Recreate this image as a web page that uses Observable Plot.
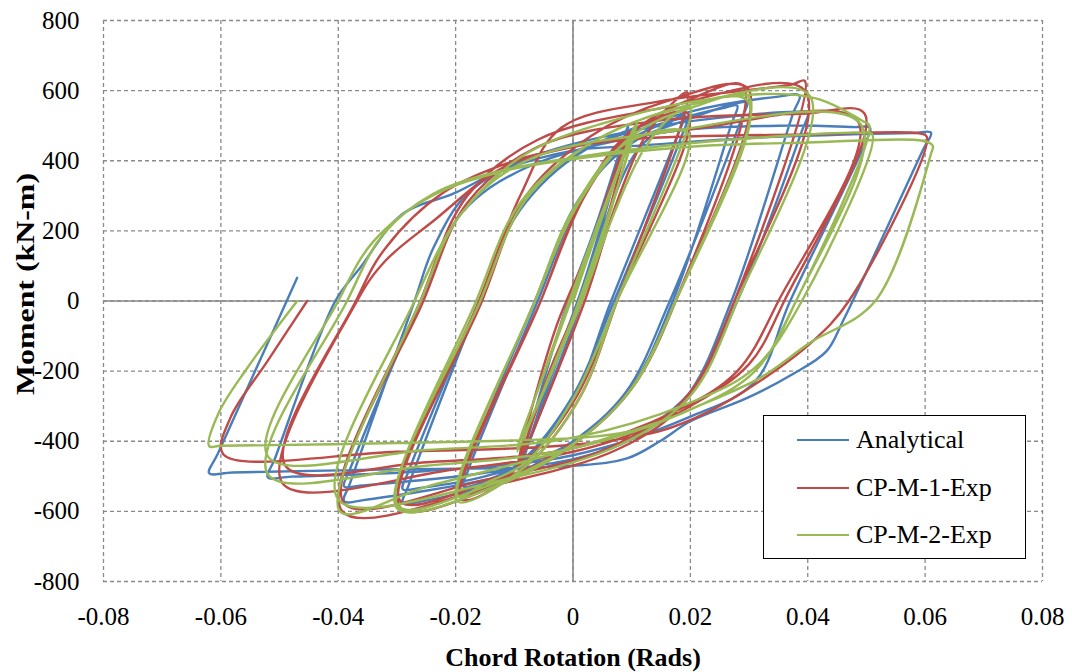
<!DOCTYPE html>
<html><head><meta charset="utf-8">
<script src="https://cdn.jsdelivr.net/npm/d3@7"></script>
<script src="https://cdn.jsdelivr.net/npm/@observablehq/plot@0.6"></script>
<style>
body{margin:0;background:#fff;}
#wrap{position:relative;width:1072px;height:672px;font-family:"Liberation Serif","Times New Roman",serif;}
#legend{position:absolute;left:763px;top:415px;width:263px;height:144px;border:1.6px solid #000;background:#fff;box-sizing:border-box;}
.lrow{position:absolute;left:33px;height:30px;display:flex;align-items:center;font-size:26px;color:#000;}
.lrow span.sw{display:inline-block;width:52px;height:0;border-top:2.5px solid;margin-right:7px;}
</style></head>
<body><div id="wrap"></div>
<script>
const xTicks = [-0.08,-0.06,-0.04,-0.02,0,0.02,0.04,0.06,0.08];
const yTicks = [-800,-600,-400,-200,0,200,400,600,800];
const seriesNames = ["Analytical","CP-M-1-Exp","CP-M-2-Exp"];
const seriesColors = ["#4A7EBB","#BE4B48","#98B954"];
const xTitle = "Chord Rotation (Rads)";
const yTitle = "Moment (kN-m)";

const analytical = [
[0,0],[0.005,270],[0.0095,500],
[0.002,60],[-0.004,-220],[-0.0095,-505],
[-0.002,-60],[0.004,220],[0.0095,505],
[0.002,50],[-0.004,-230],[-0.0095,-500],
[-0.0085,-450],[0.0015,0],[0.006,250],[0.011,430],[0.017,515],[0.019,530],
[0.0175,460],[0.0065,0],[0.0,-280],[-0.008,-450],[-0.016,-520],[-0.0187,-529],
[-0.0178,-480],[-0.006,0],[0.001,280],[0.009,450],[0.017,515],[0.0195,523],
[0.0185,470],[0.007,0],[0.0,-270],[-0.009,-460],[-0.017,-535],[-0.0195,-545],
[-0.0185,-490],[-0.0065,0],[0.001,290],[0.01,450],[0.02,520],[0.027,560],[0.0296,566],
[0.0285,510],[0.0165,0],[0.009,-260],[0.0,-400],[-0.012,-510],[-0.026,-572],[-0.029,-577],
[-0.028,-525],[-0.0158,0],[-0.0077,300],[0.003,440],[0.016,510],[0.026,552],[0.028,557],
[0.027,505],[0.017,0],[0.009,-270],[-0.002,-420],[-0.015,-500],[-0.026,-533],[-0.029,-537],
[-0.028,-485],[-0.016,0],[-0.009,260],[0.002,430],[0.02,540],[0.035,583],[0.0386,586],
[0.0375,535],[0.027,0],[0.019,-280],[0.008,-410],[-0.012,-500],[-0.035,-566],[-0.039,-571],
[-0.038,-520],[-0.027,0],[-0.0238,151],[-0.018,306],[-0.0073,409],[0.015,500],[0.038,540],[0.040,537],
[0.039,485],[0.028,0],[0.02,-260],[0.006,-420],[-0.015,-490],[-0.036,-526],[-0.039,-529],
[-0.038,-480],[-0.026,0],[-0.019,250],[-0.008,380],[0.015,480],[0.035,500],[0.048,496],[0.0506,494],
[0.0495,440],[0.037,0],[0.031,-230],[0.02,-330],[0.0,-440],[-0.025,-485],[-0.048,-501],[-0.052,-503],
[-0.0508,-450],[-0.0405,0],[-0.0363,94],[-0.029,249],[-0.0204,306],[-0.0124,371],[0,429],[0.0114,443],[0.03,465],[0.045,474],[0.058,479],[0.061,480],
[0.0596,430],[0.046,-57],[0.0432,-143],[0.0374,-209],[0.0296,-277],[0.02,-343],[0.0148,-400],[0.0092,-449],[0,-470],[-0.03,-480],[-0.058,-489],[-0.062,-491],
[-0.0605,-435],[-0.0545,-212],[-0.047,66]
];

const cpm1 = [
[0,0],[0.005,260],[0.0095,480],
[0.003,80],[-0.004,-200],[-0.0095,-470],
[-0.003,-80],[0.004,200],[0.0095,485],
[0.003,70],[-0.004,-210],[-0.0095,-475],
[0.002,0],[0.007,260],[0.012,460],[0.017,565],[0.0195,595],
[0.0075,0],[0.001,-280],[-0.008,-470],[-0.019,-565],
[-0.0055,0],[0.001,270],[0.009,470],[0.0196,534],
[0.0075,0],[0.0,-290],[-0.009,-470],[-0.019,-550],
[-0.0055,0],[0.002,300],[0.01,480],[0.02,575],[0.029,614],
[0.0175,0],[0.01,-250],[0.0,-410],[-0.012,-520],[-0.0294,-590],
[-0.0155,0],[-0.008,300],[0.003,470],[0.016,570],[0.0298,606],
[0.0175,0],[0.009,-270],[-0.002,-430],[-0.015,-520],[-0.0294,-571],
[-0.016,0],[-0.009,300],[-0.002,494],[0.015,570],[0.029,600],[0.0374,618],[0.0395,628],
[0.0275,0],[0.019,-290],[0.008,-420],[-0.012,-520],[-0.0393,-600],
[-0.026,0],[-0.018,300],[-0.006,460],[0.015,550],[0.0395,600],
[0.0275,0],[0.019,-280],[0.006,-420],[-0.015,-510],[-0.039,-577],
[-0.0255,0],[-0.018,280],[-0.006,440],[0.015,515],[0.039,534],[0.0497,534],
[0.036,0],[0.03,-180],[0.02,-300],[0.01,-380],[0.0,-430],[-0.02,-480],[-0.0495,-520],
[-0.0368,0],[-0.032,114],[-0.0238,228],[-0.012,380],[0.0,440],[0.02,490],[0.0485,514],
[0.035,0],[0.028,-200],[0.018,-310],[0.0,-420],[-0.025,-460],[-0.049,-470],
[-0.037,0],[-0.032,150],[-0.022,310],[-0.01,400],[0.0,440],[0.0114,463],[0.04,475],[0.059,478],[0.0603,468],
[0.047,0],[0.0403,-123],[0.0318,-229],[0.0233,-314],[0.0148,-371],[0.0,-410],[-0.03,-430],[-0.0596,-437],
[-0.0584,-334],[-0.052,-170],[-0.0453,0]
];

const cpm2 = [
[0,0],[0.005,240],[0.011,514],
[0.004,140],[-0.003,-180],[-0.0095,-420],
[-0.003,-120],[0.004,200],[0.0105,500],
[0.004,130],[-0.003,-170],[-0.0095,-430],
[-0.003,-110],[0.004,210],[0.011,510],
[0.0035,120],[-0.003,-180],[-0.0095,-425],
[0.0015,0],[0.007,250],[0.012,430],[0.017,530],[0.02,551],
[0.0075,0],[0.001,-280],[-0.008,-470],[-0.0197,-571],
[-0.0065,0],[0.0,260],[0.009,450],[0.0196,477],
[0.0075,0],[0.0,-280],[-0.008,-460],[-0.015,-520],[-0.0196,-557],
[-0.0065,0],[0.001,280],[0.01,470],[0.02,550],[0.030,580],
[0.0175,0],[0.01,-250],[0.0,-410],[-0.012,-520],[-0.030,-591],
[-0.0158,0],[-0.008,290],[0.003,450],[0.016,540],[0.0298,570],
[0.0175,0],[0.009,-270],[-0.002,-430],[-0.015,-530],[-0.0298,-585],
[-0.0165,0],[-0.009,280],[0.002,440],[0.02,560],[0.0403,586],
[0.028,0],[0.02,-270],[0.008,-410],[-0.012,-510],[-0.040,-566],
[-0.027,0],[-0.019,250],[-0.008,420],[0.01,530],[0.025,580],[0.036,590],[0.042,575],[0.0495,512],[0.0505,500],
[0.038,0],[0.031,-200],[0.02,-310],[0.0,-420],[-0.025,-530],[-0.0397,-600],
[-0.026,0],[-0.019,250],[-0.008,400],[0.015,480],[0.049,505],
[0.038,0],[0.031,-200],[0.02,-310],[0.0,-420],[-0.025,-470],[-0.052,-494],
[-0.0385,0],[-0.0323,191],[-0.0238,306],[-0.0124,371],[0,409],[0.02,450],[0.049,480],[0.051,475],
[0.039,0],[0.031,-190],[0.02,-290],[0.0,-390],[-0.025,-425],[-0.052,-443],
[-0.040,0],[-0.034,170],[-0.024,300],[-0.012,370],[-0.002,400],[0.02,440],[0.04,452],[0.0596,457],[0.0613,443],[0.061,420],
[0.0515,0],[0.0403,-120],[0.0318,-220],[0.0204,-306],[0.012,-363],[0.004,-386],[-0.03,-405],[-0.06,-413],[-0.062,-414],
[-0.0604,-320],[-0.0555,-191],[-0.047,0]
];

const rows = [];
[analytical, cpm1, cpm2].forEach((arr, k) => arr.forEach((p, i) => rows.push({series: seriesNames[k], x: p[0], y: p[1], i})));

const serif = "Liberation Serif";
const grid = {stroke: "#8a8a8a", strokeOpacity: 1, strokeDasharray: "4,3", strokeWidth: 1.3};
const chart = Plot.plot({
  width: 1072, height: 672,
  marginLeft: 103, marginRight: 30, marginTop: 20, marginBottom: 91,
  x: {domain: [-0.08, 0.08], axis: null},
  y: {domain: [-800, 800], axis: null},
  color: {domain: seriesNames, range: seriesColors},
  style: {fontFamily: serif, fontSize: "25px", color: "#000", background: "#fff", overflow: "visible"},
  marks: [
    Plot.gridX(xTicks, grid),
    Plot.gridY(yTicks, grid),
    Plot.ruleX([0], {stroke: "#8a8a8a", strokeWidth: 1.6}),
    Plot.ruleY([0], {stroke: "#8a8a8a", strokeWidth: 1.6}),
    Plot.text(xTicks, {x: d => d, frameAnchor: "bottom", dy: 35, lineAnchor: "middle", textAnchor: "middle", text: d => String(d), fontSize: 25, fontFamily: serif, fill: "#000"}),
    Plot.text(yTicks, {y: d => d, frameAnchor: "left", dx: -24, lineAnchor: "middle", textAnchor: "end", text: d => String(d), fontSize: 25, fontFamily: serif, fill: "#000"}),
    Plot.line(rows, {x: "x", y: "y", z: "series", stroke: "series", strokeWidth: 2.4, curve: "catmull-rom"}),
    Plot.text([xTitle], {text: d => d, frameAnchor: "bottom", dy: 76, lineAnchor: "middle", textAnchor: "middle", fontWeight: "bold", fontSize: 26, fontFamily: serif}),
    Plot.text([yTitle], {text: d => d, frameAnchor: "left", rotate: -90, dx: -78, dy: -17, lineAnchor: "middle", textAnchor: "middle", fontWeight: "bold", fontSize: 26, fontFamily: serif})
  ]
});
const wrap = document.getElementById("wrap");
wrap.appendChild(chart);
// stretch y title to the reference's length
d3.select(chart).selectAll("text").filter(function(){ return this.textContent === yTitle; })
  .attr("textLength", 222).attr("lengthAdjust", "spacingAndGlyphs");

const legend = document.createElement("div");
legend.id = "legend";
seriesNames.forEach((name, k) => {
  const row = document.createElement("div");
  row.className = "lrow";
  row.style.top = (9 + k * 47.5) + "px";
  const sw = document.createElement("span");
  sw.className = "sw";
  sw.style.borderTopColor = seriesColors[k];
  row.appendChild(sw);
  row.appendChild(document.createTextNode(name));
  legend.appendChild(row);
});
wrap.appendChild(legend);
</script>
</body></html>
